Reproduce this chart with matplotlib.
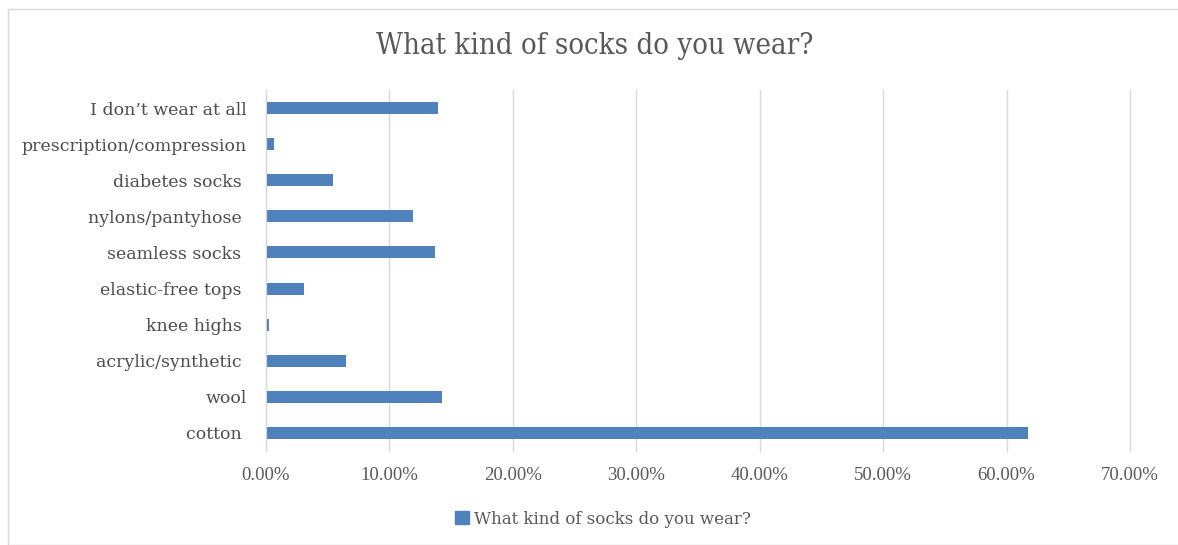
import matplotlib
matplotlib.use("Agg")
import matplotlib.pyplot as plt
from matplotlib.patches import Rectangle, Patch
from matplotlib.ticker import FuncFormatter, MultipleLocator

categories = ["cotton ", "wool", "acrylic/synthetic ", "knee highs ", "elastic-free tops ",
              "seamless socks ", "nylons/pantyhose ", "diabetes socks ",
              "prescription/compression", "I don\u2019t wear at all"]
values = [61.75, 14.29, 6.45, 0.24, 3.05, 13.66, 11.88, 5.45, 0.65, 13.94]
series_name = "What kind of socks do you wear?"
title = "What kind of socks do you wear?"

W, H = 1178, 545
fig = plt.figure(figsize=(W / 100, H / 100), dpi=100)
plt.rcParams['font.family'] = ['DejaVu Serif']

# chart border
fig.patches.append(Rectangle((8 / W, 0.5 / H), (W - 8) / W + 0.01, (H - 8.5) / H - 0.5 / H,
                             transform=fig.transFigure, fill=False,
                             edgecolor="#d9d9d9", linewidth=1.0))

ax = fig.add_axes([266 / W, 1 - 451 / H, (1130 - 266) / W, (451 - 90) / H])
bar_color = "#4f81bd"
ax.barh(range(len(categories)), values, height=0.33, color=bar_color)
ax.set_ylim(-0.5, len(categories) - 0.5)
ax.set_xlim(0, 70)
ax.xaxis.set_major_locator(MultipleLocator(10))
ax.xaxis.set_major_formatter(FuncFormatter(lambda v, p: f"{v:.2f}%"))
ax.set_yticks(range(len(categories)))
ax.set_yticklabels(categories)
ax.grid(axis="x", color="#d9d9d9", linewidth=1.0)
for gl in ax.get_xgridlines():
    gl.set_clip_on(False)
ax.set_axisbelow(True)
for s in ["top", "right", "bottom"]:
    ax.spines[s].set_visible(False)
ax.spines["left"].set_color("#d9d9d9")
ax.tick_params(axis="both", length=0, colors="#595959")
ax.tick_params(axis="y", labelsize=12.5, pad=13.7)
ax.tick_params(axis="x", labelsize=13.5, pad=11.5)
for lbl in ax.get_xticklabels():
    lbl.set_fontfamily(["Liberation Serif"])
for lbl in ax.get_yticklabels():
    lbl.set_color("#4d4d4d")

fig.text(595 / W, 1 - 46 / H, title, ha="center", va="center",
         fontsize=21, color="#595959", fontstretch="condensed")

handle = Patch(facecolor=bar_color, edgecolor=bar_color)
fig.legend([handle], [series_name], loc="center", bbox_to_anchor=(603 / W, 1 - 519 / H),
           frameon=False, fontsize=12, labelcolor="#595959", handlelength=0.8,
           handleheight=0.8, handletextpad=0.3)

fig.savefig("out.png", dpi=100)
